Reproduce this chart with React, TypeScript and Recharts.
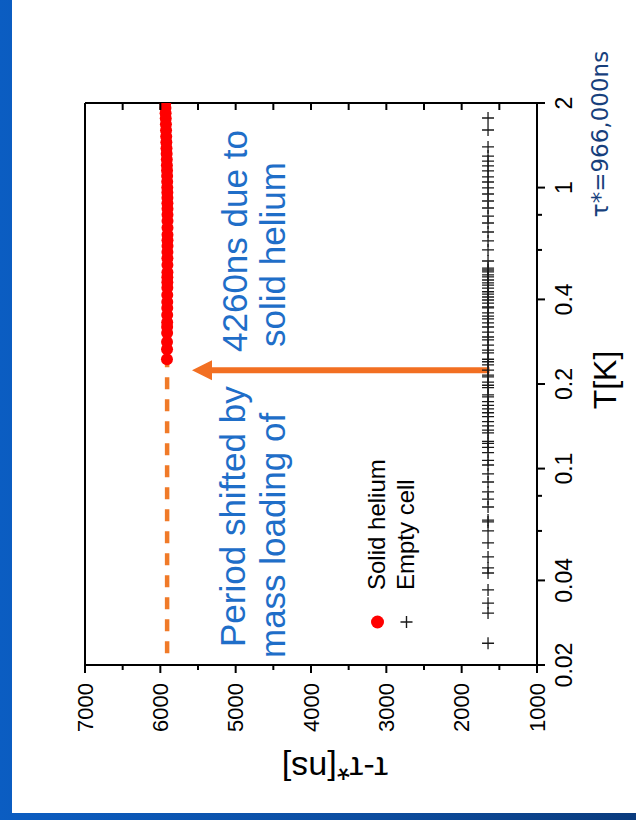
import { ComposedChart, Legend, ReferenceLine, Scatter, XAxis, YAxis } from 'recharts';

const FONT = "Arial, 'Liberation Sans', Helvetica, sans-serif";
const TEXT_BLUE = '#1f6ec8';
const ORANGE = '#f26f22';

// temperatures of the solid helium run [K]
const solidHeliumT = [
    0.245, 0.266, 0.282, 0.304, 0.319, 0.332, 0.352, 0.373, 0.392, 0.415,
    0.44, 0.46, 0.48, 0.5, 0.53, 0.56, 0.59, 0.62, 0.65, 0.68,
    0.72, 0.76, 0.8, 0.84, 0.88, 0.92, 0.96, 1.0, 1.05, 1.1,
    1.15, 1.2, 1.26, 1.32, 1.38, 1.45, 1.52, 1.6, 1.68, 1.76,
    1.84, 1.92, 2.0,
];
// period minus tau* for the solid helium run [ns]
const solidHeliumTau = [
    5912, 5911, 5911, 5910, 5910, 5909, 5909, 5908, 5908, 5908,
    5907, 5907, 5907, 5906, 5906, 5906, 5906, 5905, 5905, 5905,
    5905, 5905, 5905, 5905, 5906, 5906, 5907, 5908, 5909, 5910,
    5911, 5913, 5914, 5916, 5918, 5920, 5922, 5924, 5926, 5928,
    5930, 5932, 5934,
];

// temperatures of the empty cell run [K]
const emptyCellT = [
    0.0239, 0.0306, 0.0332, 0.037, 0.0425, 0.0443, 0.0485, 0.0544, 0.06, 0.0646,
    0.0656, 0.073, 0.0779, 0.0826, 0.0896, 0.0957, 0.103, 0.107, 0.114, 0.119,
    0.123, 0.125, 0.134, 0.137, 0.142, 0.147, 0.153, 0.158, 0.163, 0.168,
    0.173, 0.18, 0.183, 0.194, 0.198, 0.203, 0.212, 0.215, 0.224, 0.234,
    0.24, 0.245, 0.258, 0.264, 0.275, 0.287, 0.294, 0.306, 0.319, 0.33,
    0.341, 0.349, 0.358, 0.373, 0.376, 0.388, 0.398, 0.408, 0.418, 0.426,
    0.439, 0.45, 0.458, 0.469, 0.481, 0.489, 0.501, 0.509, 0.517, 0.548,
    0.6, 0.646, 0.695, 0.748, 0.792, 0.846, 0.896, 0.949, 0.997, 1.047,
    1.091, 1.146, 1.194, 1.243, 1.295, 1.395, 1.603, 1.769,
];
// the empty cell sits flat over the whole range [ns]
const EMPTY_CELL_TAU = 1650;

// low temperature plateau of the loaded cell, drawn dashed below the first point
const PLATEAU_TAU = 5910;
const plateauT = [0.022, 0.245];

// arrow from the empty cell level up towards the loaded cell level
const arrowT = 0.224;
const arrowTau = [1630, 5580];

const tTicks = [0.02, 0.04, 0.06, 0.08, 0.1, 0.2, 0.4, 0.6, 0.8, 1, 2];
const tLabels = [0.02, 0.04, 0.1, 0.2, 0.4, 1, 2];
const tauTicks = [1000, 1500, 2000, 2500, 3000, 3500, 4000, 4500, 5000, 5500, 6000, 6500, 7000];

const legendItems = [
    { name: 'Solid helium', marker: 'dot' },
    { name: 'Empty cell', marker: 'plus' },
];

const solidHelium = solidHeliumT.map((t, i) => ({ t, tau: solidHeliumTau[i] }));
const emptyCell = emptyCellT.map((t) => ({ t, tau: EMPTY_CELL_TAU }));

// the chart is laid out as usual, then the whole figure is turned a quarter left
const CHART_W = 820;
const CHART_H = 636;

const RedDot = (p: any) => <circle cx={p.cx} cy={p.cy} r={6} fill="#ff0000" />;

const Plus = (p: any) => (
    <path
        d={`M${p.cx - 6},${p.cy}h12M${p.cx},${p.cy - 6}v12`}
        stroke="#1a1a1a"
        strokeWidth={1.3}
        fill="none"
    />
);

const TTick = (p: any) => {
    const v = p.payload.value;
    const major = tLabels.includes(v);
    return (
        <g>
            <line x1={p.x} x2={p.x} y1={p.y} y2={p.y + (major ? 8 : 5)} stroke="#000" strokeWidth={2} />
            {major && (
                <text x={p.x} y={p.y + 35} textAnchor="middle" fontSize={23} fontFamily={FONT} fill="#000">
                    {String(v)}
                </text>
            )}
        </g>
    );
};

const TauTick = (p: any) => {
    const v = p.payload.value;
    const major = v % 1000 === 0;
    return (
        <g>
            <line x1={p.x} x2={p.x - (major ? 8 : 5)} y1={p.y} y2={p.y} stroke="#000" strokeWidth={2} />
            {major && (
                <text x={p.x - 18} y={p.y} dy="0.35em" textAnchor="end" fontSize={22} fontFamily={FONT} fill="#000">
                    {v}
                </text>
            )}
        </g>
    );
};

const TauTickInside = (p: any) => (
    <line x1={p.x} x2={p.x - 7} y1={p.y} y2={p.y} stroke="#000" strokeWidth={2} />
);

const Arrow = (p: any) => {
    const { x1, y1, x2, y2 } = p;
    const len = Math.hypot(x2 - x1, y2 - y1) || 1;
    const ux = (x2 - x1) / len;
    const uy = (y2 - y1) / len;
    const head = 20;
    const half = 10;
    const bx = x2 - ux * head;
    const by = y2 - uy * head;
    return (
        <g>
            <line x1={x1} y1={y1} x2={bx} y2={by} stroke={ORANGE} strokeWidth={6} />
            <polygon
                points={`${x2},${y2} ${bx - uy * half},${by + ux * half} ${bx + uy * half},${by - ux * half}`}
                fill={ORANGE}
            />
        </g>
    );
};

const LegendBox = () => (
    <div style={{ fontFamily: FONT, fontSize: 24, color: '#000' }}>
        {legendItems.map((item) => (
            <div key={item.name} style={{ display: 'flex', alignItems: 'center', height: 29 }}>
                <svg width={26} height={29}>
                    {item.marker === 'dot' ? (
                        <circle cx={12} cy={14.5} r={6.5} fill="#ff0000" />
                    ) : (
                        <path d="M6,14.5h12M12,8.5v12" stroke="#1a1a1a" strokeWidth={1.4} fill="none" />
                    )}
                </svg>
                <span style={{ marginLeft: 18, whiteSpace: 'nowrap' }}>{item.name}</span>
            </div>
        ))}
    </div>
);

const note = (left: number, top: number): React.CSSProperties => ({
    position: 'absolute',
    left,
    top,
    fontFamily: FONT,
    fontSize: 35,
    lineHeight: '40px',
    color: TEXT_BLUE,
    whiteSpace: 'nowrap',
});

export default function App() {
    return (
        <div
            style={{
                position: 'absolute',
                left: 0,
                top: 0,
                width: 636,
                height: 820,
                overflow: 'hidden',
                background: 'linear-gradient(90deg, #0b5dc2 0%, #0c4c9e 60%, #0a3b7d 100%)',
            }}
        >
            <div style={{ position: 'absolute', left: 12, top: 0, right: 0, bottom: 7, background: '#fff' }} />
            <div
                style={{
                    position: 'absolute',
                    left: 0,
                    top: 0,
                    width: CHART_W,
                    height: CHART_H,
                    transformOrigin: '0 0',
                    transform: `translate(0px, ${CHART_W}px) rotate(-90deg)`,
                }}
            >
                <ComposedChart width={CHART_W} height={CHART_H} margin={{ top: 84, right: 102, bottom: 0, left: 0 }}>
                    <XAxis
                        dataKey="t"
                        type="number"
                        scale="log"
                        domain={[0.02, 2]}
                        allowDataOverflow
                        ticks={tTicks}
                        interval={0}
                        height={99}
                        tickSize={0}
                        tickMargin={0}
                        tickLine={false}
                        tick={TTick}
                        axisLine={{ stroke: '#000', strokeWidth: 2 }}
                    />
                    <XAxis
                        xAxisId="top"
                        orientation="top"
                        type="number"
                        scale="log"
                        domain={[0.02, 2]}
                        allowDataOverflow
                        height={1}
                        tick={false}
                        tickLine={false}
                        axisLine={{ stroke: '#000', strokeWidth: 2 }}
                    />
                    <YAxis
                        dataKey="tau"
                        type="number"
                        domain={[1000, 7000]}
                        allowDataOverflow
                        ticks={tauTicks}
                        interval={0}
                        width={155}
                        tickSize={0}
                        tickMargin={0}
                        tickLine={false}
                        tick={TauTick}
                        axisLine={{ stroke: '#000', strokeWidth: 2 }}
                    />
                    <YAxis
                        yAxisId="right"
                        orientation="right"
                        type="number"
                        domain={[1000, 7000]}
                        allowDataOverflow
                        ticks={tauTicks}
                        interval={0}
                        width={1}
                        tickSize={0}
                        tickMargin={0}
                        tickLine={false}
                        tick={TauTickInside}
                        axisLine={{ stroke: '#000', strokeWidth: 2 }}
                    />
                    <Scatter name="Empty cell" data={emptyCell} shape={Plus} isAnimationActive={false} />
                    <Scatter name="Solid helium" data={solidHelium} shape={RedDot} isAnimationActive={false} />
                    <ReferenceLine
                        segment={[
                            { x: plateauT[0], y: PLATEAU_TAU },
                            { x: plateauT[1], y: PLATEAU_TAU },
                        ]}
                        stroke="#f07a28"
                        strokeWidth={4.5}
                        strokeDasharray="12 10"
                    />
                    <ReferenceLine
                        segment={[
                            { x: arrowT, y: arrowTau[0] },
                            { x: arrowT, y: arrowTau[1] },
                        ]}
                        shape={Arrow}
                    />
                    <Legend
                        layout="vertical"
                        align="center"
                        verticalAlign="middle"
                        content={LegendBox}
                        wrapperStyle={{ left: 186, top: 362.5, width: 'auto', height: 'auto' }}
                    />
                </ComposedChart>

                <div style={note(173, 213)}>Period shifted by</div>
                <div style={note(162, 253)}>mass loading of</div>
                <div style={note(468, 215)}>4260ns due to</div>
                <div style={note(473, 253)}>solid helium</div>

                {/* axis titles */}
                <div
                    style={{
                        position: 'absolute',
                        left: 52,
                        top: 335,
                        transform: 'translate(-50%, -50%) rotate(-90deg)',
                        fontFamily: FONT,
                        fontSize: 34,
                        whiteSpace: 'nowrap',
                        color: '#000',
                    }}
                >
                    τ-τ*[ns]
                </div>
                <div
                    style={{
                        position: 'absolute',
                        left: 440,
                        top: 605,
                        transform: 'translate(-50%, -50%)',
                        fontFamily: FONT,
                        fontSize: 32,
                        lineHeight: 1,
                        whiteSpace: 'nowrap',
                        color: '#000',
                    }}
                >
                    T[K]
                </div>
                <div
                    style={{
                        position: 'absolute',
                        left: 686,
                        top: 600,
                        transform: 'translate(-50%, -50%)',
                        fontFamily: "'DejaVu Sans', Verdana, sans-serif",
                        fontSize: 23,
                        lineHeight: 1,
                        whiteSpace: 'nowrap',
                        color: '#173f7c',
                    }}
                >
                    τ*=966,000ns
                </div>
            </div>
        </div>
    );
}
